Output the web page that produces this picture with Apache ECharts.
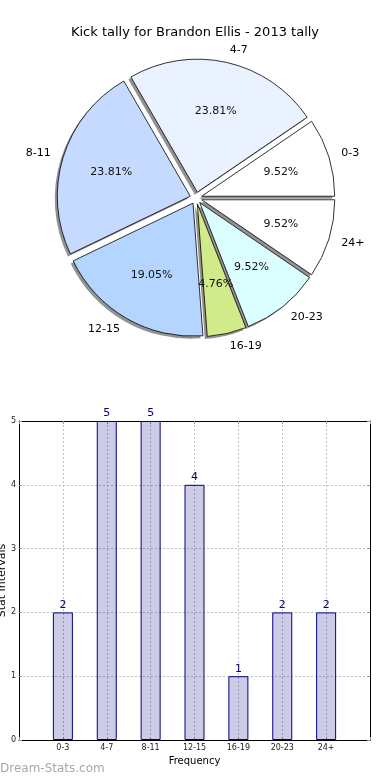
<!DOCTYPE html>
<html>
<head>
<meta charset="utf-8">
<script src="https://cdn.jsdelivr.net/npm/echarts@6/dist/echarts.min.js"></script>
<style>
html,body{margin:0;padding:0;background:#fff;}
#chart{width:390px;height:780px;}
</style>
</head>
<body>
<div id="chart"></div>
<script>
const titleText = 'Kick tally for Brandon Ellis - 2013 tally';
const categories = ['0-3', '4-7', '8-11', '12-15', '16-19', '20-23', '24+'];
const tallies = [2, 5, 5, 4, 1, 2, 2];
const sliceColors = ['#ffffff', '#eaf1ff', '#c6d9ff', '#b4d5ff', '#d2eb8a', '#dbffff', '#ffffff'];
const yTicks = [0, 1, 2, 3, 4, 5];
const xAxisName = 'Frequency';
const yAxisName = 'Stat Intervals';
const watermark = 'Dream-Stats.com';

const FONT = 'DejaVu Sans';
const R = 133;
const center = [196, 198];
const shadowCenter = [center[0] - 2.5, center[1] + 2.5];
const total = tallies.reduce((a, b) => a + b, 0);

const chart = echarts.init(document.getElementById('chart'), null, {renderer: 'canvas'});

const pieData = categories.map((c, i) => ({
  name: c, value: tallies[i], selected: true,
  itemStyle: {color: sliceColors[i]}
}));
const pctData = categories.map((c, i) => ({
  name: c, value: tallies[i], selected: true,
  itemStyle: {color: 'rgba(0,0,0,0)', borderWidth: 0}
}));
const shadowData = categories.map((c, i) => ({
  name: c, value: tallies[i], selected: true
}));

const axisCommon = {
  axisLine: {show: true, onZero: false, lineStyle: {color: '#000', width: 1}},
  axisTick: {show: true, inside: true, length: 3, lineStyle: {color: '#999'}}
};

const option = {
  animation: false,
  backgroundColor: '#ffffff',
  textStyle: {fontFamily: FONT},
  title: {
    text: titleText, left: 'center', top: 21,
    textStyle: {fontFamily: FONT, fontSize: 13, fontWeight: 'normal', color: '#000'}
  },
  graphic: [{
    type: 'text', left: 0, top: 763,
    style: {text: watermark, fontFamily: FONT, fontSize: 12, fill: '#a8a8a8'}
  }],
  grid: {left: 19, right: 20, top: 421, bottom: 40, containLabel: false, outerBoundsMode: 'none'},
  xAxis: [Object.assign({
    type: 'value', min: -1, max: 7, interval: 1,
    name: xAxisName, nameLocation: 'middle', nameGap: 16, nameMoveOverlap: false,
    nameTextStyle: {fontFamily: FONT, fontSize: 10, color: '#000'},
    axisLabel: {
      fontFamily: FONT, fontSize: 8, color: '#222', margin: 4,
      formatter: v => (v >= 0 && v < categories.length) ? categories[v] : ''
    },
    splitLine: {show: true, lineStyle: {color: '#c0c0c0', type: [2, 2], width: 1}}
  }, axisCommon), Object.assign({
    type: 'value', min: -1, max: 7, interval: 1, position: 'top',
    axisLabel: {show: false}, splitLine: {show: false}
  }, axisCommon)],
  yAxis: [Object.assign({
    type: 'value', min: 0, max: 5, interval: 1, position: 'left',
    name: yAxisName, nameLocation: 'middle', nameGap: 11, nameRotate: 90, nameMoveOverlap: false,
    nameTextStyle: {fontFamily: FONT, fontSize: 11, color: '#000'},
    axisLabel: {fontFamily: FONT, fontSize: 8, color: '#222', margin: 3,
      formatter: v => yTicks.includes(v) ? String(v) : ''},
    splitLine: {show: true, lineStyle: {color: '#c0c0c0', type: [2, 2], width: 1}}
  }, axisCommon), Object.assign({
    type: 'value', min: 0, max: 5, interval: 1, position: 'right',
    axisLabel: {show: false}, splitLine: {show: false}
  }, axisCommon)],
  series: [
    {
      type: 'pie', center: shadowCenter, radius: R,
      startAngle: 0, clockwise: false,
      avoidLabelOverlap: false, silent: true,
      selectedMode: 'multiple', selectedOffset: 6,
      emphasis: {disabled: true},
      itemStyle: {color: 'rgba(110,110,110,0.75)', borderWidth: 0},
      label: {show: false}, labelLine: {show: false},
      data: shadowData,
      z: 1
    },
    {
      type: 'pie', center: center, radius: R,
      startAngle: 0, clockwise: false,
      avoidLabelOverlap: false,
      selectedMode: 'multiple', selectedOffset: 6,
      emphasis: {disabled: true},
      itemStyle: {borderColor: '#000', borderWidth: 0.8},
      label: {
        show: true, position: 'outside', formatter: '{b}',
        fontFamily: FONT, fontSize: 11, color: '#000', distanceToLabelLine: 0
      },
      labelLine: {show: false, length: 13, length2: 0},
      data: pieData,
      z: 2
    },
    {
      type: 'pie', center: center, radius: R * 1.2,
      startAngle: 0, clockwise: false,
      avoidLabelOverlap: false, silent: true,
      selectedMode: 'multiple', selectedOffset: 6,
      emphasis: {disabled: true},
      label: {
        show: true, position: 'inside',
        formatter: p => (p.value / total * 100).toFixed(2) + '%',
        fontFamily: FONT, fontSize: 11, color: '#111'
      },
      labelLine: {show: false},
      data: pctData,
      z: 3
    },
    {
      type: 'bar', xAxisIndex: 0, yAxisIndex: 0,
      data: tallies.map((v, i) => [i, v]),
      barWidth: 20,
      itemStyle: {color: 'rgba(0,0,128,0.2)', borderColor: '#000080', borderWidth: 1},
      label: {show: true, position: 'top', distance: 2, fontFamily: FONT, fontSize: 11, color: '#000080'},
      emphasis: {disabled: true},
      z: 2
    }
  ]
};
chart.setOption(option);
</script>
</body>
</html>
